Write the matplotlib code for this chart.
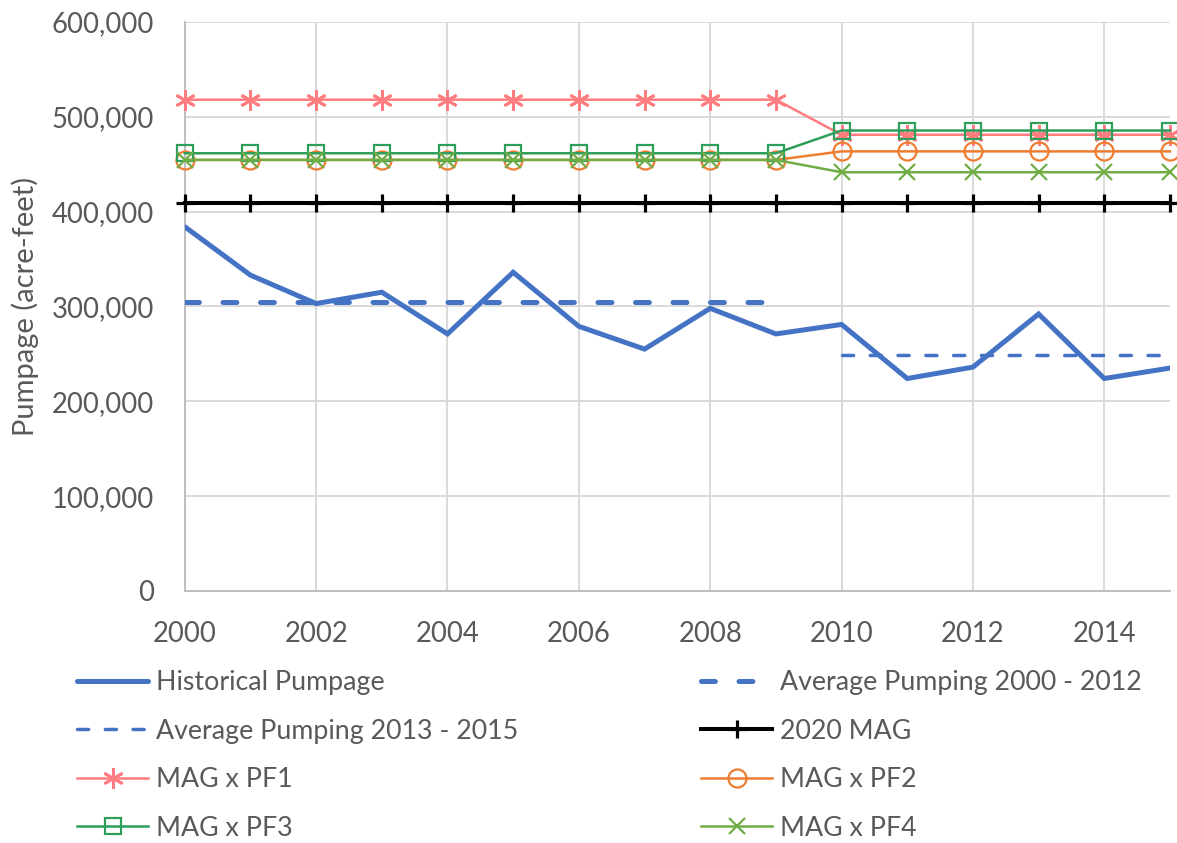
import matplotlib
matplotlib.use("Agg")
import matplotlib.pyplot as plt

plt.rcParams['font.family'] = ['Lato', 'DejaVu Sans']
plt.rcParams['lines.scale_dashes'] = False

years = list(range(2000, 2016))
historical = [384000, 333000, 303000, 315000, 271000, 336000, 279000, 255000,
              298000, 271000, 281000, 224000, 236000, 292000, 224000, 235000]

avg_early_years = [2000, 2009]
avg_early = [304500, 304500]
avg_late_years = [2010, 2015]
avg_late = [249000, 249000]

mag_2020 = [409000] * 16
pf1 = [518000] * 10 + [481000] * 6
pf2 = [454500] * 10 + [463500] * 6
pf3 = [461500] * 10 + [485500] * 6
pf4 = [454500] * 10 + [441500] * 6

y_ticks = [0, 100000, 200000, 300000, 400000, 500000, 600000]
x_ticks = [2000, 2002, 2004, 2006, 2008, 2010, 2012, 2014]

text_col = '#595959'
blue = '#4472C4'

fig = plt.figure(figsize=(11.77, 8.43), dpi=100)
ax = fig.add_axes([0.157, 0.299, 0.837, 0.675])

h_hist, = ax.plot(years, historical, color=blue, lw=3.6, solid_capstyle='round',
                  solid_joinstyle='miter', label='Historical Pumpage', zorder=3)
h_avg1, = ax.plot(avg_early_years, avg_early, color=blue, lw=3.6,
                  dashes=(10, 17), dash_capstyle='round',
                  label='Average Pumping 2000 - 2012', zorder=3)
h_avg2, = ax.plot(avg_late_years, avg_late, color=blue, lw=2.5,
                  dashes=(8, 12), dash_capstyle='round',
                  label='Average Pumping 2013 - 2015', zorder=3)
h_mag, = ax.plot(years, mag_2020, color='black', lw=2.9, marker='+', ms=13, mew=2.3,
                 label='2020 MAG', zorder=4, clip_on=False)
h_pf1, = ax.plot(years, pf1, color='#FF7C80', lw=1.8, marker=(6, 2, 0), ms=15, mew=2.0,
                 label='MAG x PF1', zorder=4, clip_on=False)
h_pf2, = ax.plot(years, pf2, color='#ED7D31', lw=1.8, marker='o', ms=13, mew=1.6,
                 mfc='none', label='MAG x PF2', zorder=4, clip_on=False)
h_pf3, = ax.plot(years, pf3, color='#2E9E5B', lw=1.8, marker='s', ms=12, mew=1.6,
                 mfc='none', label='MAG x PF3', zorder=4, clip_on=False)
h_pf4, = ax.plot(years, pf4, color='#70AD47', lw=1.8, marker='x', ms=12, mew=1.6,
                 label='MAG x PF4', zorder=4, clip_on=False)

ax.set_xlim(2000, 2015)
ax.set_ylim(0, 600000)
ax.set_xticks(x_ticks)
ax.set_yticks(y_ticks)
ax.set_yticklabels([f'{v:,}' for v in y_ticks])
ax.tick_params(length=0, labelsize=19.8, colors=text_col)
ax.tick_params(axis='y', pad=22)
ax.tick_params(axis='x', pad=22)
ax.grid(True, color='#D9D9D9', lw=1.4)
ax.set_axisbelow(True)
for s in ['top', 'right']:
    ax.spines[s].set_visible(False)
for s in ['left', 'bottom']:
    ax.spines[s].set_color('#BFBFBF')
    ax.spines[s].set_linewidth(1.4)
ax.set_ylabel('Pumpage (acre-feet)', fontsize=21, color=text_col, labelpad=9)

# legend fills column by column, so order handles accordingly
handles = [h_hist, h_avg2, h_pf1, h_pf3, h_avg1, h_mag, h_pf2, h_pf4]
leg = fig.legend(handles=handles, labels=[h.get_label() for h in handles],
                 loc='upper left', bbox_to_anchor=(0.0563, 0.218), ncol=2,
                 frameon=False, fontsize=19.3, handlelength=2.65, handletextpad=0.3,
                 columnspacing=6.83, labelspacing=0.88, numpoints=1, borderaxespad=0)
for t in leg.get_texts():
    t.set_color(text_col)

fig.savefig('out.png', dpi=100)
